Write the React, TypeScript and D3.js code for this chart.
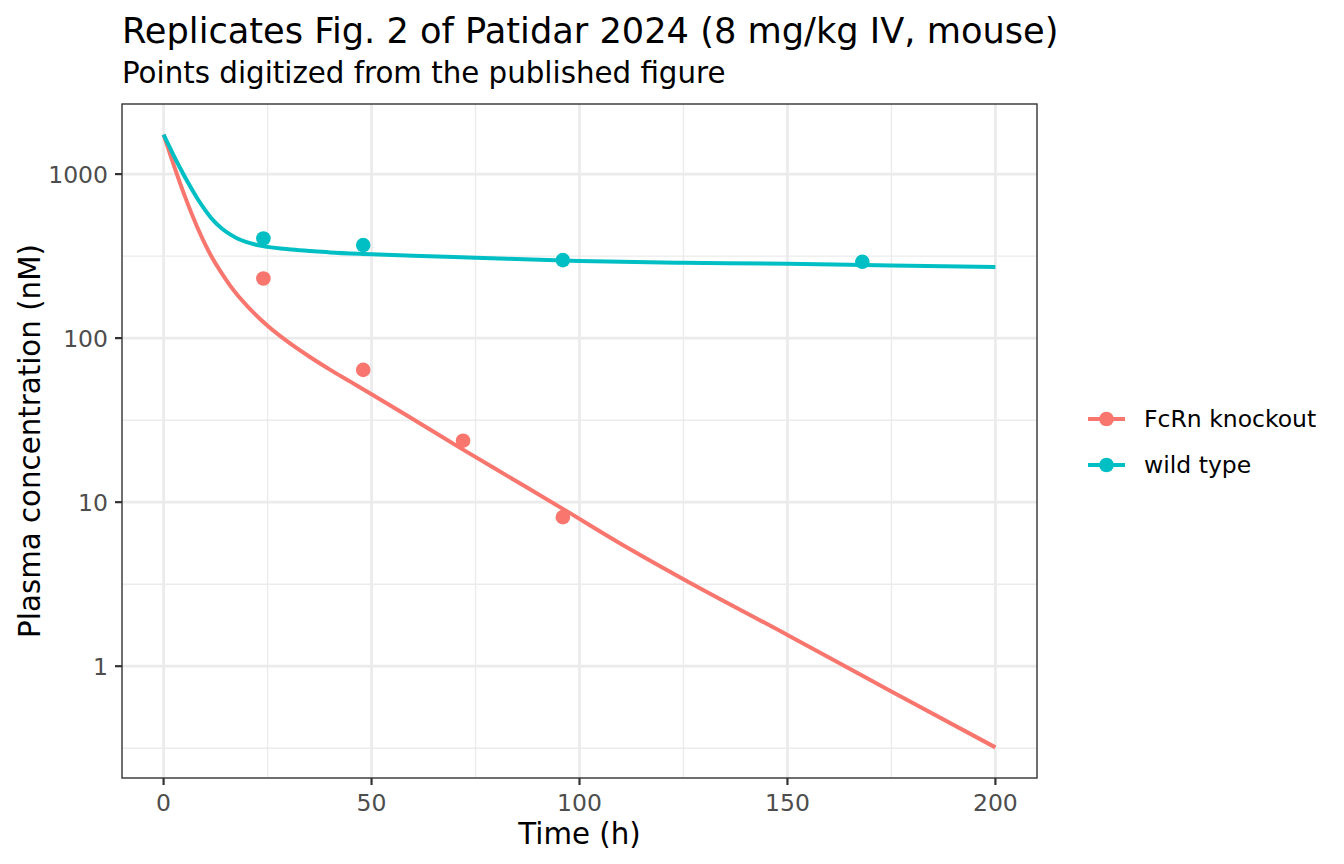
import * as d3 from "d3";

const WIDTH = 1344;
const HEIGHT = 864;
const PANEL = { left: 122, right: 1037, top: 104, bottom: 778 };
const FONT = "DejaVu Sans, Verdana, sans-serif";

const KO_COLOR = "#F8766D";
const WT_COLOR = "#00BFC4";

const TITLE = "Replicates Fig. 2 of Patidar 2024 (8 mg/kg IV, mouse)";
const SUBTITLE = "Points digitized from the published figure";
const X_LABEL = "Time (h)";
const Y_LABEL = "Plasma concentration (nM)";

const SERIES = ["FcRn knockout", "wild type"];

// model curves
const KO_CURVE_T = [0, 2, 4, 6, 8, 10, 12, 14, 16, 18, 20, 22, 25, 30, 35, 40, 45, 50, 60, 72, 84, 96, 110, 125, 150, 175, 200];
const KO_CURVE_C = [1740, 1225, 875, 640, 481, 373, 299, 248, 209, 180, 158, 140, 119, 94.5, 77.3, 64.3, 54.1, 45.5, 32, 20.9, 13.8, 9.1, 5.56, 3.39, 1.55, 0.7, 0.32];

const WT_CURVE_T = [0, 2, 4, 6, 8, 10, 12, 14, 16, 18, 20, 22, 25, 30, 35, 40, 50, 60, 75, 100, 125, 150, 175, 200];
const WT_CURVE_C = [1740, 1368, 1086, 875, 718, 603, 520, 466, 429, 402, 385, 372, 360, 348, 340, 333, 325, 318, 309, 295, 288, 284, 277, 271];

// digitized observations
const KO_OBS_T = [24, 48, 72, 96];
const KO_OBS_C = [231, 64, 23.7, 8.1];
const WT_OBS_T = [24, 48, 96, 168];
const WT_OBS_C = [405, 369, 299, 292];

const X_BREAKS = [0, 50, 100, 150, 200];
const X_MINOR = [25, 75, 125, 175];
const Y_BREAKS = [1, 10, 100, 1000];
const Y_MINOR = [0.316, 3.16, 31.6, 316];

const zip = (t: number[], c: number[]) => t.map((x, i) => ({ t: x, c: c[i] }));

export default function App() {
  const koCurve = zip(KO_CURVE_T, KO_CURVE_C);
  const wtCurve = zip(WT_CURVE_T, WT_CURVE_C);
  const koObs = zip(KO_OBS_T, KO_OBS_C);
  const wtObs = zip(WT_OBS_T, WT_OBS_C);

  // ggplot-like 5% expansion
  const allT = [...KO_CURVE_T, ...WT_CURVE_T, ...KO_OBS_T, ...WT_OBS_T];
  const [tMin, tMax] = d3.extent(allT) as [number, number];
  const tPad = (tMax - tMin) * 0.05;
  const xScale = d3
    .scaleLinear()
    .domain([tMin - tPad, tMax + tPad])
    .range([PANEL.left, PANEL.right]);

  const allC = [...KO_CURVE_C, ...WT_CURVE_C, ...KO_OBS_C, ...WT_OBS_C].map(Math.log10);
  const [lMin, lMax] = d3.extent(allC) as [number, number];
  const lPad = (lMax - lMin) * 0.05;
  const yScale = d3
    .scaleLog()
    .domain([Math.pow(10, lMin - lPad), Math.pow(10, lMax + lPad)])
    .range([PANEL.bottom, PANEL.top]);

  const line = d3
    .line<{ t: number; c: number }>()
    .x((d) => xScale(d.t))
    .y((d) => yScale(d.c))
    .curve(d3.curveMonotoneX);

  const legendY = [419, 465];
  const colors = [KO_COLOR, WT_COLOR];

  return (
    <svg
      width={WIDTH}
      height={HEIGHT}
      style={{ position: "absolute", left: 0, top: 0, background: "#fff" }}
      fontFamily={FONT}
    >
      <rect x={0} y={0} width={WIDTH} height={HEIGHT} fill="#fff" />

      {/* grid */}
      <g>
        {X_MINOR.map((v) => (
          <line key={"xm" + v} x1={xScale(v)} x2={xScale(v)} y1={PANEL.top} y2={PANEL.bottom} stroke="#EBEBEB" strokeWidth={1.4} />
        ))}
        {Y_MINOR.map((v) => (
          <line key={"ym" + v} x1={PANEL.left} x2={PANEL.right} y1={yScale(v)} y2={yScale(v)} stroke="#EBEBEB" strokeWidth={1.4} />
        ))}
        {X_BREAKS.map((v) => (
          <line key={"x" + v} x1={xScale(v)} x2={xScale(v)} y1={PANEL.top} y2={PANEL.bottom} stroke="#EBEBEB" strokeWidth={2.7} />
        ))}
        {Y_BREAKS.map((v) => (
          <line key={"y" + v} x1={PANEL.left} x2={PANEL.right} y1={yScale(v)} y2={yScale(v)} stroke="#EBEBEB" strokeWidth={2.7} />
        ))}
      </g>

      {/* curves */}
      <path d={line(koCurve) ?? ""} fill="none" stroke={KO_COLOR} strokeWidth={4} />
      <path d={line(wtCurve) ?? ""} fill="none" stroke={WT_COLOR} strokeWidth={4} />

      {/* observations */}
      {koObs.map((d, i) => (
        <circle key={"ko" + i} cx={xScale(d.t)} cy={yScale(d.c)} r={7.3} fill={KO_COLOR} />
      ))}
      {wtObs.map((d, i) => (
        <circle key={"wt" + i} cx={xScale(d.t)} cy={yScale(d.c)} r={7.3} fill={WT_COLOR} />
      ))}

      {/* panel border */}
      <rect
        x={PANEL.left}
        y={PANEL.top}
        width={PANEL.right - PANEL.left}
        height={PANEL.bottom - PANEL.top}
        fill="none"
        stroke="#333333"
        strokeWidth={1.4}
      />

      {/* x axis */}
      {X_BREAKS.map((v) => (
        <g key={"xt" + v}>
          <line x1={xScale(v)} x2={xScale(v)} y1={PANEL.bottom} y2={PANEL.bottom + 7} stroke="#333333" strokeWidth={2.2} />
          <text x={xScale(v)} y={PANEL.bottom + 33} textAnchor="middle" fontSize={23.5} fill="#4D4D4D">
            {v}
          </text>
        </g>
      ))}

      {/* y axis */}
      {Y_BREAKS.map((v) => (
        <g key={"yt" + v}>
          <line x1={PANEL.left - 7} x2={PANEL.left} y1={yScale(v)} y2={yScale(v)} stroke="#333333" strokeWidth={2.2} />
          <text x={PANEL.left - 14} y={yScale(v)} dy="0.36em" textAnchor="end" fontSize={23.5} fill="#4D4D4D">
            {v}
          </text>
        </g>
      ))}

      <text x={(PANEL.left + PANEL.right) / 2} y={844} textAnchor="middle" fontSize={29.3} fill="#000">
        {X_LABEL}
      </text>
      <text
        transform={`translate(40, ${(PANEL.top + PANEL.bottom) / 2}) rotate(-90)`}
        textAnchor="middle"
        fontSize={29.3}
        fill="#000"
      >
        {Y_LABEL}
      </text>

      {/* titles */}
      <text x={PANEL.left} y={43} fontSize={35.2} fill="#000">
        {TITLE}
      </text>
      <text x={PANEL.left} y={83} fontSize={29.3} fill="#000">
        {SUBTITLE}
      </text>

      {/* legend */}
      {SERIES.map((s, i) => (
        <g key={s}>
          <line x1={1088} x2={1125} y1={legendY[i]} y2={legendY[i]} stroke={colors[i]} strokeWidth={4} />
          <circle cx={1106.5} cy={legendY[i]} r={7.3} fill={colors[i]} />
          <text x={1144} y={legendY[i]} dy="0.36em" fontSize={23.5} fill="#000">
            {s}
          </text>
        </g>
      ))}
    </svg>
  );
}
